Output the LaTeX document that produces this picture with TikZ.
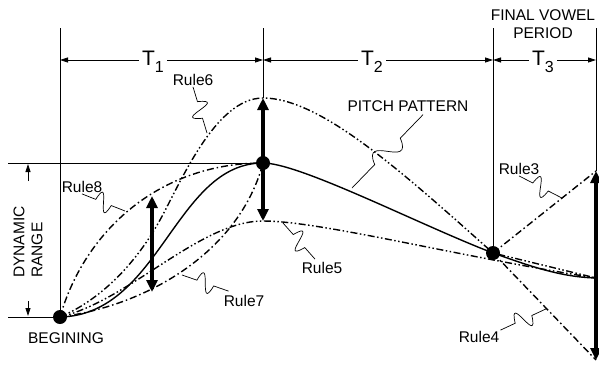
\documentclass[tikz,border=0pt]{standalone}
\usepackage{fontspec}
\setmainfont{Liberation Sans}
\usetikzlibrary{arrows.meta,calc}

\tikzset{
    thin line/.style={line width=0.8pt},
    curve/.style={line width=1.4pt},
    dashdot/.style={curve, dash pattern=on 7pt off 3pt on 1.5pt off 3pt},
    dashdotdot/.style={curve, dash pattern=on 7pt off 2.5pt on 1.5pt off 2.5pt on 1.5pt off 2.5pt},
    bold arrow/.style={line width=3.8pt,
        {Triangle[length=12pt,width=11pt]}-{Triangle[length=12pt,width=11pt]}},
    dim/.style={thin line, {Triangle[length=8pt,width=5pt]}-{Triangle[length=8pt,width=5pt]}},
    dim tip/.style={thin line, -{Triangle[length=8pt,width=5pt]}},
    dot/.style={circle, fill, inner sep=0pt, minimum size=14pt},
    txt/.style={font=\fontsize{15.5}{18}\selectfont, inner sep=1pt},
    tlabel/.style={font=\fontsize{21}{21}\selectfont, fill=white, inner xsep=3pt, inner ysep=0pt},
    leader/.style={line width=0.7pt}
}

\newcommand\tsub[1]{\raisebox{-7pt}{\fontsize{16}{16}\selectfont #1}}
\newcommand\leaderline[2]{%
    \draw[leader] (#1) -- ($(#1)!0.32!(#2)$)
        .. controls ($(#1)!0.45!(#2)!32pt!90:(#2)$) and ($(#1)!0.55!(#2)!-32pt!90:(#2)$)
        .. ($(#1)!0.68!(#2)$) -- (#2);}

\begin{document}
\begin{tikzpicture}[x=1pt,y=-1pt]
\useasboundingbox (0,0) rectangle (599,365);

% key points
\coordinate (begin) at (60,317);
\coordinate (peak) at (263,163);
\coordinate (vowel) at (493,253);
\coordinate (final) at (596,278);
\coordinate (r6top) at (263,98);
\coordinate (r5top) at (263,221);
\coordinate (r3end) at (596,171);
\coordinate (r4end) at (596,360);

% frame lines
\draw[thin line] (8,163) -- (peak);
\draw[thin line] (8,317) -- (begin);
\draw[thin line] (60,28) -- (begin);
\draw[thin line] (263,28) -- (r6top);
\draw[thin line] (493,28) -- (vowel);
\draw[thin line] (596,28) -- (r3end);

% time spans
\draw[dim] (60,60) -- (263,60);
\draw[dim] (263,60) -- (493,60);
\draw[dim] (493,60) -- (596,60);
\node[tlabel, anchor=base] (t1) at (153,65) {T\tsub{1}};
\node[tlabel, anchor=base] (t2) at (372,65) {T\tsub{2}};
\node[tlabel, anchor=base] (t3) at (543,65) {T\tsub{3}};
\node[txt, align=center] (fvp) at (543,24) {FINAL VOWEL\\PERIOD};

% dynamic range
\draw[dim tip] (28,181) -- (28,164);
\draw[dim tip] (28,301) -- (28,316);
\node[txt, align=left, rotate=90] (dr) at (28,242) {DYNAMIC\\RANGE};

% pitch pattern
\draw[curve] (begin) .. controls (160,315) and (175,163) .. (peak)
    .. controls (300,163) and (420,225) .. (vowel)
    .. controls (530,266) and (560,277) .. (final);

% Rule6 and Rule5
\draw[dashdotdot] (begin) .. controls (100,300) and (135,265) .. (160,220)
    .. controls (180,184) and (215,98) .. (r6top)
    .. controls (320,98) and (400,170) .. (vowel) -- (final);
\draw[dashdotdot] (begin) .. controls (130,300) and (200,221) .. (r5top)
    .. controls (320,221) and (450,255) .. (final);

% Rule8 and Rule7
\draw[dashdot] (begin) .. controls (85,230) and (160,163) .. (peak);
\draw[dashdot] (begin) .. controls (150,305) and (240,250) .. (peak);

% Rule3 and Rule4
\draw[dashdot] (vowel) -- (r3end);
\draw[dashdot] (vowel) -- (r4end);

% ranges
\draw[bold arrow] (r5top) -- (r6top);
\draw[bold arrow] (152,196) -- (152,292);
\draw[bold arrow] (r3end) -- (r4end);

% dots
\node[dot] (bdot) at (begin) {};
\node[dot] (pdot) at (peak) {};
\node[dot] (vdot) at (vowel) {};

% labels
\node[txt] (r6) at (193,80) {Rule6};
\node[txt] (pitch) at (408,106) {PITCH PATTERN};
\node[txt] (r8) at (82,187) {Rule8};
\node[txt] (r7) at (244,301) {Rule7};
\node[txt] (r5) at (322,268) {Rule5};
\node[txt] (r3) at (519,169) {Rule3};
\node[txt] (r4) at (479,337) {Rule4};
\node[txt] (beg) at (66,338) {BEGINING};

% leaders
\coordinate (r6pt) at (207,133);
\coordinate (pitchfoot) at ($(pitch.south)+(15,2)$);
\coordinate (pitchpt) at (352,188);
\coordinate (r8pt) at (125,211);
\coordinate (r7foot) at ($(r7.north west)+(6,-3)$);
\coordinate (r7pt) at (182,275);
\coordinate (r5foot) at ($(r5.north)+(-7,-2)$);
\coordinate (r5pt) at (283,223);
\coordinate (r3pt) at ($(vowel)!0.67!(r3end)$);
\coordinate (r4pt) at ($(vowel)!0.52!(r4end)$);
\leaderline{r6.south}{r6pt}
\leaderline{pitchfoot}{pitchpt}
\leaderline{r8.south}{r8pt}
\leaderline{r7foot}{r7pt}
\leaderline{r5foot}{r5pt}
\leaderline{r3.south}{r3pt}
\leaderline{r4.north east}{r4pt}

\end{tikzpicture}
\end{document}
